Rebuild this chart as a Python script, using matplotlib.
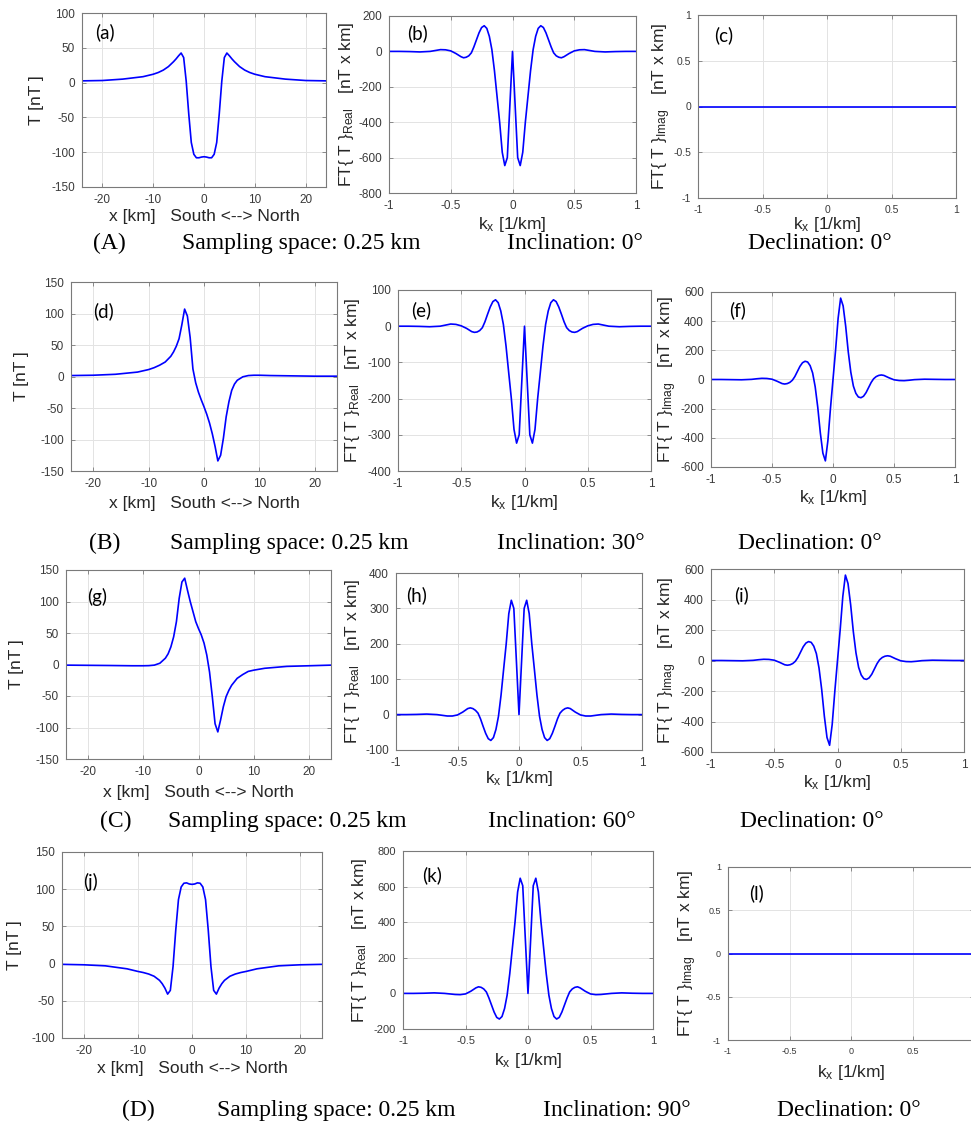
import matplotlib
matplotlib.use('Agg')
import matplotlib.pyplot as plt
from matplotlib.ticker import FuncFormatter

plt.rcParams['font.family'] = ['Liberation Sans', 'DejaVu Sans']
plt.rcParams['mathtext.fontset'] = 'custom'
plt.rcParams['mathtext.rm'] = 'Liberation Sans'
plt.rcParams['mathtext.it'] = 'Liberation Sans:italic'
plt.rcParams['axes.unicode_minus'] = False

# ---------------- data ----------------
x_km = [-24, -20, -16, -12, -10, -9, -8, -7, -6, -5.5, -5, -4.5, -4, -3.5, -3, -2.5, -2, -1.5, -1, -0.5,
        0, 0.5, 1, 1.5, 2, 2.5, 3, 3.5, 4, 4.5, 5, 5.5, 6, 7, 8, 9, 10, 12, 16, 20, 24]

T_inc0 = [2.5, 3, 5, 8.5, 12, 14.5, 18, 23, 30, 34, 38.5, 42.5, 36, 2, -45, -86, -103, -108, -108, -107,
          -106.5, -107, -108, -108, -103, -86, -45, 2, 36, 42.5, 38.5, 34, 30, 23, 18, 14.5, 12, 8.5, 5, 3, 2.5]

T_inc30 = [1.5, 2, 3.5, 7, 11, 14, 18, 23, 32, 39, 48, 60, 82, 107, 96, 62, 12, -10, -25, -37,
           -48, -60, -74, -91, -111, -134, -125, -98, -64, -40, -22, -12, -6, -0.5, 1.5, 2, 2, 1.5, 1, 0.5, 0.5]

T_inc60 = [-1, -1.3, -1.6, -2, -2, -1.8, -1, 2, 10, 17, 28, 44, 68, 105, 131, 137, 118, 100, 84, 68,
           57, 47, 34, 15, -12, -51, -94, -107, -88, -67, -51, -41, -33, -22, -16, -11, -9, -6, -3, -2, -1]

T_inc90 = [-1, -1.6, -3, -7, -10.5, -12, -14, -17, -22.5, -27, -33, -41, -36, -4, 45, 86, 103, 108, 108.5, 107,
           106.5, 107, 108.5, 108, 103, 86, 45, -4, -36, -41, -33, -27, -22.5, -17, -14, -12, -10.5, -7, -3, -1.6, -1]

kx = [-1.0, -0.917, -0.833, -0.75, -0.667, -0.625, -0.583, -0.542, -0.5, -0.458, -0.417, -0.396, -0.375,
      -0.354, -0.333, -0.313, -0.292, -0.271, -0.25, -0.229, -0.208, -0.1875, -0.167, -0.146, -0.125,
      -0.104, -0.083, -0.0625, -0.042, -0.021, 0.0, 0.021, 0.042, 0.0625, 0.083, 0.104, 0.125, 0.146,
      0.167, 0.1875, 0.208, 0.229, 0.25, 0.271, 0.292, 0.313, 0.333, 0.354, 0.375, 0.396, 0.417, 0.458,
      0.5, 0.542, 0.583, 0.625, 0.667, 0.75, 0.833, 0.917, 1.0]

FT_real_inc0 = [0, 0, -1, -3, 0, 5, 10, 9, 3, -12, -30, -36, -33, -25, -8, 25, 65, 105, 135, 145, 130, 85,
                10, -110, -255, -400, -570, -645, -600, -300, 0, -300, -600, -645, -570, -400, -255, -110,
                10, 85, 130, 145, 135, 105, 65, 25, -8, -25, -33, -36, -30, -12, 3, 9, 10, 5, 0, -3, -1, 0, 0]

FT_real_inc30 = [0, 0, -0.5, -1.5, 0, 3, 6, 5, 1, -6, -15, -17, -16, -12, -4, 12, 33, 53, 68, 73, 65, 42,
                 5, -55, -128, -200, -285, -323, -300, -150, 0, -150, -300, -323, -285, -200, -128, -55,
                 5, 42, 65, 73, 68, 53, 33, 12, -4, -12, -16, -17, -15, -6, 1, 5, 6, 3, 0, -1.5, -0.5, 0, 0]

FT_real_inc60 = [0, 0, 0.5, 1.5, 0, -2, -4, -4, -1, 7, 17, 19, 17, 12, 4, -12, -33, -53, -68, -73, -65, -42,
                 -5, 55, 128, 200, 285, 323, 300, 150, 0, 150, 300, 323, 285, 200, 128, 55,
                 -5, -42, -65, -73, -68, -53, -33, -12, 4, 12, 17, 19, 17, 7, -1, -4, -4, -2, 0, 1.5, 0.5, 0, 0]

FT_real_inc90 = [0, 0, 1, 3, 0, -3, -6, -7, -3, 12, 31, 37, 34, 25, 8, -25, -65, -105, -135, -144, -130, -85,
                 -10, 110, 255, 400, 570, 647, 605, 300, 0, 300, 605, 647, 570, 400, 255, 110,
                 -10, -85, -130, -144, -135, -105, -65, -25, 8, 25, 34, 37, 31, 12, -3, -7, -6, -3, 0, 3, 1, 0, 0]

FT_imag_inc30 = [0, 0, -1, -2, 1, 5, 8, 7, 2, -12, -28, -31, -28, -20, -5, 20, 55, 90, 115, 125, 120, 95,
                 45, -50, -190, -365, -505, -558, -420, -200, 0, 200, 420, 558, 505, 365, 190, 50,
                 -45, -95, -120, -125, -115, -90, -55, -20, 5, 20, 28, 31, 28, 12, -2, -7, -8, -5, -1, 2, 1, 0, 0]

FT_imag_inc60 = [0, 0, -1, -2, 1, 5, 8, 7, 2, -12, -28, -31, -28, -20, -5, 20, 55, 90, 114, 124, 119, 94,
                 45, -50, -190, -365, -505, -556, -420, -200, 0, 200, 420, 560, 505, 365, 190, 50,
                 -45, -95, -119, -124, -114, -90, -55, -20, 5, 20, 28, 31, 28, 12, -2, -7, -8, -5, -1, 2, 1, 0, 0]

kx_flat = [-1.0, 1.0]
FT_imag_zero = [0, 0]

captions = [
    ("(A)", "Sampling space: 0.25 km", "Inclination: 0\u00b0", "Declination: 0\u00b0"),
    ("(B)", "Sampling space: 0.25 km", "Inclination: 30\u00b0", "Declination: 0\u00b0"),
    ("(C)", "Sampling space: 0.25 km", "Inclination: 60\u00b0", "Declination: 0\u00b0"),
    ("(D)", "Sampling space: 0.25 km", "Inclination: 90\u00b0", "Declination: 0\u00b0"),
]
letters = ["(a)", "(b)", "(c)", "(d)", "(e)", "(f)", "(g)", "(h)", "(i)", "(j)", "(k)", "(l)"]

# ---------------- layout ----------------
W, H = 971, 1126
fig = plt.figure(figsize=(W / 100, H / 100), dpi=100)
fig.patch.set_facecolor('white')

XL_T = "x [km]   South <--> North"
YL_T = "T [nT ]"
XL_K = r"k$_{\rm x}$ [1/km]"
YL_R = r"FT{ T }$_{\rm Real}$   [nT x km]"
YL_I = r"FT{ T }$_{\rm Imag}$   [nT x km]"

T_lim, T_ticks = (-24, 24), [-20, -10, 0, 10, 20]
K_lim, K_ticks = (-1, 1), [-1, -0.5, 0, 0.5, 1]

panels = [
    # bbox px (x0,y0,x1,y1), x, y, xlim, xticks, ylim, yticks, xlabel, ylabel, ylabel_x, xlabel_y, letter pos, tick fs
    ((82, 13, 326, 187), x_km, T_inc0, T_lim, T_ticks, (-150, 100), list(range(-150, 101, 50)), XL_T, YL_T, 37, 217, (95, 32), 8.5),
    ((389, 16, 636, 193), kx, FT_real_inc0, K_lim, K_ticks, (-800, 200), list(range(-800, 201, 200)), XL_K, YL_R, 346, 224, (407, 33), 8.5),
    ((698, 15, 956, 198), kx_flat, FT_imag_zero, K_lim, K_ticks, (-1, 1), [-1, -0.5, 0, 0.5, 1], XL_K, YL_I, 662, 225, (714, 35), 7.5),
    ((71, 282, 337, 471), x_km, T_inc30, T_lim, T_ticks, (-150, 150), list(range(-150, 151, 50)), XL_T, YL_T, 22, 503, (93, 311), 8.5),
    ((398, 290, 651, 471), kx, FT_real_inc30, K_lim, K_ticks, (-400, 100), list(range(-400, 101, 100)), XL_K, YL_R, 352, 502, (411, 310), 8.5),
    ((711, 292, 955, 467), kx, FT_imag_inc30, K_lim, K_ticks, (-600, 600), list(range(-600, 601, 200)), XL_K, YL_I, 668, 498, (729, 310), 8.5),
    ((66, 570, 331, 759), x_km, T_inc60, T_lim, T_ticks, (-150, 150), list(range(-150, 151, 50)), XL_T, YL_T, 17, 792, (87, 597), 8.5),
    ((396, 573, 642, 750), kx, FT_real_inc60, K_lim, K_ticks, (-100, 400), list(range(-100, 401, 100)), XL_K, YL_R, 352, 778, (406, 595), 8.5),
    ((711, 569, 964, 752), kx, FT_imag_inc60, K_lim, K_ticks, (-600, 600), list(range(-600, 601, 200)), XL_K, YL_I, 668, 783, (734, 595), 8.5),
    ((62, 852, 322, 1038), x_km, T_inc90, T_lim, T_ticks, (-100, 150), list(range(-100, 151, 50)), XL_T, YL_T, 15, 1068, (83, 882), 8.5),
    ((403, 851, 653, 1029), kx, FT_real_inc90, K_lim, K_ticks, (-200, 800), list(range(-200, 801, 200)), XL_K, YL_R, 359, 1060, (422, 875), 8),
    ((728, 867, 974, 1040), kx_flat, FT_imag_zero, K_lim, K_ticks, (-1, 1), [-1, -0.5, 0, 0.5, 1], XL_K, YL_I, 688, 1072, (749, 893), 6.5),
]

fmt = FuncFormatter(lambda v, p: ('%g' % v))
fmt_cut = FuncFormatter(lambda v, p: ('' if v >= 1 else '%g' % v))
spine_c = '#7a7a7a'
txt_c = '#262626'

for i, (bb, xs, ys, xlim, xticks, ylim, yticks, xl, yl, ylx, xly, lpos, tfs) in enumerate(panels):
    x0, y0, x1, y1 = bb
    ax = fig.add_axes([x0 / W, 1 - y1 / H, (x1 - x0) / W, (y1 - y0) / H])
    ax.plot(xs, ys, color='#0000ff', lw=1.2, solid_joinstyle='round')
    ax.set_xlim(*xlim)
    ax.set_ylim(*ylim)
    ax.set_xticks(xticks)
    ax.set_yticks(yticks)
    # last panel runs off the right edge of the page: its "1" label is not shown
    ax.xaxis.set_major_formatter(fmt_cut if i == 11 else fmt)
    ax.yaxis.set_major_formatter(fmt)
    ax.grid(True, color='#e3e3e3', lw=0.7)
    ax.set_axisbelow(True)
    for s in ax.spines.values():
        s.set_color(spine_c)
        s.set_linewidth(0.8)
    ax.tick_params(direction='in', length=3, width=0.6, color=spine_c, labelsize=tfs,
                   labelcolor='#3a3a3a', pad=5, top=True, right=True)
    ax.set_xlabel(xl, fontsize=12.5, color=txt_c)
    ax.set_ylabel(yl, fontsize=12.5, color=txt_c)
    ax.xaxis.label.set_va('center')
    ax.yaxis.label.set_va('center')
    ax.xaxis.set_label_coords(0.5, (y1 - xly) / (y1 - y0))
    ax.yaxis.set_label_coords((ylx - x0) / (x1 - x0), 0.5)
    fig.text(lpos[0] / W, 1 - lpos[1] / H, letters[i], fontsize=13.5, family=['Lato', 'DejaVu Sans'],
             color='black', ha='left', va='center')

# captions (serif)
cap_y = [249, 549, 827, 1116]
cap_x = [(93, 182, 507, 748), (89, 170, 497, 738), (100, 168, 488, 740), (122, 217, 543, 777)]
for (c, xs_, yb) in zip(captions, cap_x, cap_y):
    for txt, xp in zip(c, xs_):
        fig.text(xp / W, 1 - yb / H, txt, fontsize=17, family=['Liberation Serif', 'DejaVu Serif'],
                 color='black', ha='left', va='baseline')

fig.savefig('out.png', dpi=100, facecolor='white')
